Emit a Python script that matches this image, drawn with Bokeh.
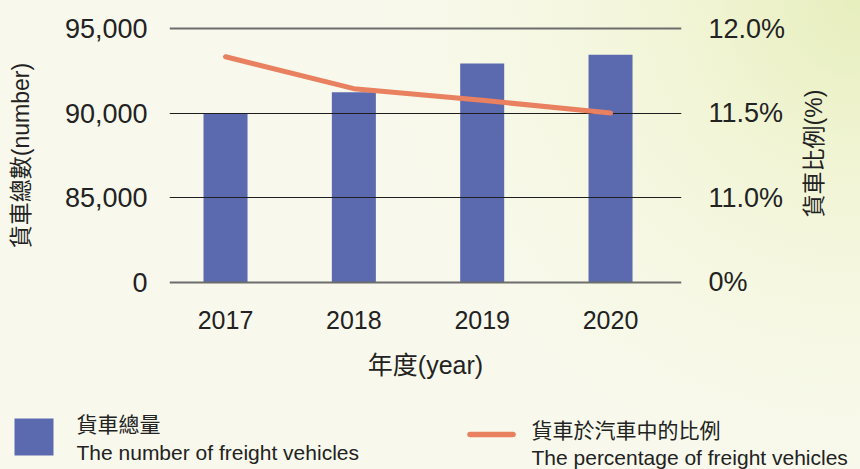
import numpy as np
from bokeh.plotting import figure
from bokeh.layouts import column, row
from bokeh.models import (Range1d, LinearAxis, FixedTicker, Grid, Label,
                          ColumnDataSource, GlobalInlineStyleSheet)
from bokeh.embed import file_html
from bokeh.resources import INLINE

# ---------------- data ----------------
years = ["2017", "2018", "2019", "2020"]
freight_vehicles = [90000, 91250, 92950, 93470]
freight_share_pct = [11.835, 11.646, 11.577, 11.502]

left_tick_values = [0, 85000, 90000, 95000]
left_tick_labels = ["0", "85,000", "90,000", "95,000"]
right_tick_values = [0.0, 11.0, 11.5, 12.0]
right_tick_labels = ["0%", "11.0%", "11.5%", "12.0%"]

x_title = "年度(year)"
left_title = "貨車總數(number)"
right_title = "貨車比例(%)"
legend_bar_cn = "貨車總量"
legend_bar_en = "The number of freight vehicles"
legend_line_cn = "貨車於汽車中的比例"
legend_line_en = "The percentage of freight vehicles"

# broken axis: each tick value sits one step above the previous one
tick_pos = list(range(len(left_tick_values)))
x_pos = list(range(len(years)))
bar_top = np.interp(freight_vehicles, left_tick_values, tick_pos)
share_pos = np.interp(freight_share_pct, right_tick_values, tick_pos)

src = ColumnDataSource(dict(x=x_pos, year=years, vehicles=freight_vehicles, bar_top=bar_top,
                            share=freight_share_pct, share_pos=share_pos))

TXT = "#222222"
LAT = "Liberation Sans, Noto Sans CJK TC"
BAR = "#5B6AAF"
LINE = "#E9805F"

W, H_TOP, H_LEG = 860, 405, 64
W_MAIN = 800
FL, FW = 169, 512
FT, FH = 20, 270

css = ("body{background:radial-gradient(circle at 100% 0%, #E7EEBD 0px, #F1F5D5 170px, "
       "#F6F8E4 330px, #F8F9EC 480px) no-repeat, #F8F9EC;}")

p = figure(x_range=Range1d(-0.4365, 3.553), y_range=Range1d(-0.1, 3.1),
           width=W_MAIN, height=H_TOP, min_border_left=FL, min_border_right=W_MAIN - FL - FW,
           min_border_top=FT, min_border_bottom=H_TOP - FT - FH,
           output_backend="svg", toolbar_location=None,
           background_fill_alpha=0, border_fill_alpha=0, outline_line_color=None)
p.extra_y_ranges = {"pct": Range1d(-0.1, 3.1)}
p.xgrid.visible = False
p.ygrid.visible = False

def style_axis(ax, font, size):
    ax.axis_line_color = None
    ax.major_tick_line_color = None
    ax.minor_tick_line_color = None
    ax.major_tick_in = 0
    ax.major_tick_out = 0
    ax.major_label_text_font = font
    ax.major_label_text_font_size = size
    ax.major_label_text_color = TXT

def style_title(ax, size):
    ax.axis_label_text_font = LAT
    ax.axis_label_text_font_size = size
    ax.axis_label_text_font_style = "normal"
    ax.axis_label_text_color = TXT

# left axis
yax = p.yaxis[0]
yax.ticker = FixedTicker(ticks=tick_pos)
yax.major_label_overrides = {t: l for t, l in zip(tick_pos, left_tick_labels)}
style_axis(yax, LAT, "27px")
yax.major_label_standoff = 22
yax.axis_label = left_title
style_title(yax, "23px")
yax.axis_label_standoff = 28

# right axis (tick labels; its title is drawn in the strip to the right)
rax = LinearAxis(y_range_name="pct", ticker=FixedTicker(ticks=tick_pos))
rax.major_label_overrides = {t: l for t, l in zip(tick_pos, right_tick_labels)}
style_axis(rax, LAT, "27px")
rax.major_label_standoff = 27
p.add_layout(rax, "right")

# bottom axis
xax = p.xaxis[0]
xax.ticker = FixedTicker(ticks=x_pos)
xax.major_label_overrides = {i: y for i, y in zip(x_pos, years)}
style_axis(xax, LAT, "25px")
xax.major_label_standoff = 20
xax.axis_label = x_title
style_title(xax, "25px")
xax.axis_label_standoff = 19

# grids
g_outer = Grid(dimension=1, ticker=FixedTicker(ticks=[tick_pos[0], tick_pos[-1]]),
               grid_line_color="#6d6d6d", grid_line_width=2, level="glyph")
g_inner = Grid(dimension=1, ticker=FixedTicker(ticks=tick_pos[1:-1]),
               grid_line_color="#1e1e1e", grid_line_width=1.2, level="glyph")
p.add_layout(g_outer)
p.add_layout(g_inner)

# bars and line
p.vbar(x="x", top="bar_top", bottom=0, width=0.343, source=src,
       fill_color=BAR, line_color=None, level="underlay")
p.line(x="x", y="share_pos", source=src, y_range_name="pct",
       line_color=LINE, line_width=5, line_cap="round", line_join="round", level="overlay")

def strip(w, h, x0, y0):
    f = figure(width=w, height=h, x_range=Range1d(x0, x0 + w), y_range=Range1d(y0 + h, y0),
               x_axis_type=None, y_axis_type=None, min_border=0,
               output_backend="svg", toolbar_location=None,
               background_fill_alpha=0, border_fill_alpha=0, outline_line_color=None)
    return f

# ---------------- right title strip (page pixel coordinates) ----------------
rt = strip(W - W_MAIN, H_TOP, W_MAIN, 0)
rt.add_layout(Label(x=813, y=153, text=right_title, angle=np.pi / 2,
                    text_align="center", text_baseline="middle",
                    text_font=LAT, text_font_size="23px", text_color=TXT))

# ---------------- legend strip (page pixel coordinates) ----------------
leg = strip(W, H_LEG, 0, H_TOP)
leg.quad(left=[14], right=[53], top=[418], bottom=[455], fill_color=BAR, line_color=None)
leg.line(x=[469.5, 512.5], y=[434, 434], line_color=LINE, line_width=5.5, line_cap="round")
for (x, y, t) in [(76, 424, legend_bar_cn), (76, 451.5, legend_bar_en),
                  (531, 430, legend_line_cn), (531, 456.5, legend_line_en)]:
    leg.add_layout(Label(x=x, y=y, text=t, text_align="left", text_baseline="alphabetic",
                         text_font=LAT, text_font_size="21px", text_color=TXT))

sheet = GlobalInlineStyleSheet(css=css)
for f in (p, rt, leg):
    if "frame_align" in f.properties():
        f.frame_align = False
root = column(row(p, rt, spacing=0), leg, spacing=0)
root.stylesheets = [sheet]

open("out.html", "w").write(file_html(root, INLINE))
